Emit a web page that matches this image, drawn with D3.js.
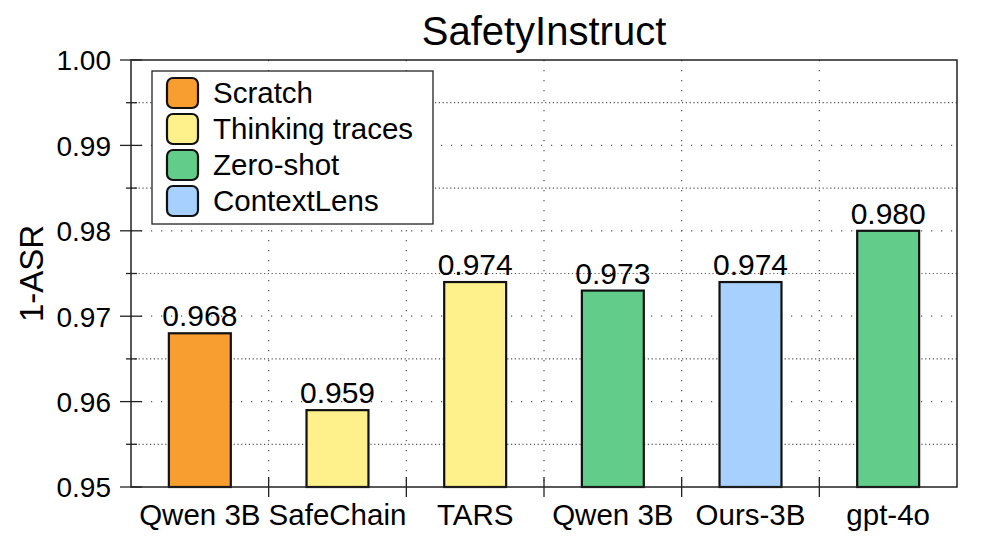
<!DOCTYPE html>
<html>
<head>
<meta charset="utf-8">
<script src="https://cdn.jsdelivr.net/npm/d3@7"></script>
<style>
  body { margin: 0; background: #fff; }
  svg text { font-family: "Liberation Sans", Arial, sans-serif; fill: #000; }
</style>
</head>
<body>
<div id="chart"></div>
<script>
// data
const models = ["Qwen 3B", "SafeChain", "TARS", "Qwen 3B", "Ours-3B", "gpt-4o"];
const scores = [0.968, 0.959, 0.974, 0.973, 0.974, 0.980];
const groups = ["Scratch", "Thinking traces", "Thinking traces", "Zero-shot", "ContextLens", "Zero-shot"];
const legendNames = ["Scratch", "Thinking traces", "Zero-shot", "ContextLens"];
const legendColors = ["#f89e30", "#fef08a", "#62cc8a", "#a8d0fe"];
const yTicks = [0.95, 0.96, 0.97, 0.98, 0.99, 1.00];
const yMinor = [0.955, 0.965, 0.975, 0.985, 0.995];

let margin = { top: 60, right: 40, bottom: 57, left: 131 };
let width = 997 - margin.left - margin.right,
    height = 544 - margin.top - margin.bottom;

let svg = d3.select("#chart")
    .append("svg")
    .attr("width", 997)
    .attr("height", 544);

let g = svg.append("g")
    .attr("transform", "translate(" + margin.left + "," + margin.top + ")");

let color = d3.scaleOrdinal().domain(legendNames).range(legendColors);

let x = d3.scaleBand()
    .domain(d3.range(models.length))
    .range([0, width]);

let y = d3.scaleLinear()
    .domain([0.95, 1.0])
    .range([height, 0]);

// grid: major sparse dots, minor dense dots, vertical at band edges
g.selectAll(".gmaj")
    .data(yTicks.slice(1, -1))
    .enter().append("line")
    .attr("x1", 0).attr("x2", width)
    .attr("y1", d => y(d)).attr("y2", d => y(d))
    .attr("stroke", "#555").attr("stroke-width", 1.2)
    .attr("stroke-dasharray", "1.2 8.8");

g.selectAll(".gmin")
    .data(yMinor)
    .enter().append("line")
    .attr("x1", 0).attr("x2", width)
    .attr("y1", d => y(d)).attr("y2", d => y(d))
    .attr("stroke", "#555").attr("stroke-width", 1.2)
    .attr("stroke-dasharray", "1.2 2.6");

let edges = d3.range(1, models.length).map(i => x(i));
g.selectAll(".gv")
    .data(edges)
    .enter().append("line")
    .attr("x1", d => d).attr("x2", d => d)
    .attr("y1", 0).attr("y2", height)
    .attr("stroke", "#555").attr("stroke-width", 1.2)
    .attr("stroke-dasharray", "1.2 8.8");

// bars
let barW = x.bandwidth() * 0.45;
g.selectAll(".bar")
    .data(scores)
    .enter().append("rect")
    .attr("x", (d, i) => x(i) + x.bandwidth() / 2 - barW / 2)
    .attr("y", d => y(d))
    .attr("width", barW)
    .attr("height", d => height - y(d))
    .attr("fill", (d, i) => color(groups[i]))
    .attr("stroke", "#111")
    .attr("stroke-width", 2.2);

g.selectAll(".val")
    .data(scores)
    .enter().append("text")
    .attr("x", (d, i) => x(i) + x.bandwidth() / 2)
    .attr("y", d => y(d) - 7)
    .attr("text-anchor", "middle")
    .style("font-size", "30px")
    .text(d => d.toFixed(3));

// frame
g.append("rect")
    .attr("width", width).attr("height", height)
    .attr("fill", "none").attr("stroke", "#222").attr("stroke-width", 1.5);

// y axis
let yAxis = g.append("g")
    .call(d3.axisLeft(y).tickValues(yTicks).tickFormat(d3.format(".2f")).tickSize(0).tickPadding(20));
yAxis.select(".domain").remove();
yAxis.selectAll("text").style("font-size", "28px").attr("dy", "0.35em");
g.selectAll(".ymaj")
    .data(yTicks)
    .enter().append("line")
    .attr("x1", -11).attr("x2", 11)
    .attr("y1", d => y(d)).attr("y2", d => y(d))
    .attr("stroke", "#222").attr("stroke-width", 1.3);
g.selectAll(".ymin")
    .data(yMinor)
    .enter().append("line")
    .attr("x1", -5).attr("x2", 6)
    .attr("y1", d => y(d)).attr("y2", d => y(d))
    .attr("stroke", "#222").attr("stroke-width", 1.3);

// x axis labels and ticks at band edges
g.selectAll(".xl")
    .data(models)
    .enter().append("text")
    .attr("x", (d, i) => x(i) + x.bandwidth() / 2)
    .attr("y", height + 38)
    .attr("text-anchor", "middle")
    .style("font-size", "29.5px")
    .text(d => d);
g.selectAll(".xt")
    .data(edges)
    .enter().append("line")
    .attr("x1", d => d).attr("x2", d => d)
    .attr("y1", height - 10).attr("y2", height + 10)
    .attr("stroke", "#222").attr("stroke-width", 1.3);

// title and y label
svg.append("text")
    .attr("x", margin.left + width / 2)
    .attr("y", 45)
    .attr("text-anchor", "middle")
    .style("font-size", "40px")
    .text("SafetyInstruct");

svg.append("text")
    .attr("transform", "translate(43," + (margin.top + height / 2) + ") rotate(-90)")
    .attr("text-anchor", "middle")
    .style("font-size", "33px")
    .text("1-ASR");

// legend
let leg = svg.append("g").attr("transform", "translate(152,71)");
leg.append("rect")
    .attr("width", 281).attr("height", 153)
    .attr("fill", "#fff").attr("stroke", "#222").attr("stroke-width", 1.3);
let items = leg.selectAll(".li")
    .data(legendNames)
    .enter().append("g")
    .attr("transform", (d, i) => "translate(0," + (22 + i * 36) + ")");
items.append("rect")
    .attr("x", 15).attr("y", -15)
    .attr("width", 31).attr("height", 30)
    .attr("rx", 6)
    .attr("fill", d => color(d))
    .attr("stroke", "#111").attr("stroke-width", 2.2);
items.append("text")
    .attr("x", 61).attr("y", 0)
    .attr("dy", "0.35em")
    .style("font-size", "29.5px")
    .text(d => d);
</script>
</body>
</html>
